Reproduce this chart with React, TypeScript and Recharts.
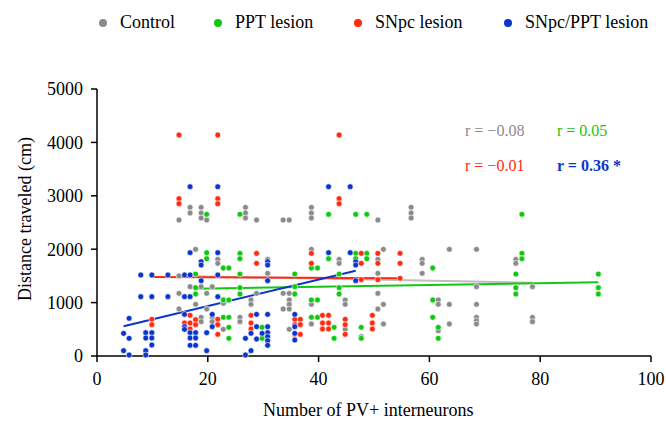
import React from "react";
import {
  ReferenceLine,
  Scatter,
  ScatterChart,
  XAxis,
  YAxis,
} from "recharts";

// [number of PV+ interneurons, distance traveled (cm)]
const controlPts: [number, number][] = [
  [14.8, 2547], [16.8, 2785], [16.8, 2678], [18.8, 2785], [18.8, 2678], [18.8, 2584], [19.8, 2547],
  [17.8, 1998], [16.8, 1298], [18.8, 1298], [14.8, 1173], [19.8, 1173], [17.8, 968], [14.8, 880],
  [19.8, 880], [18.8, 725], [18.8, 643], [14.8, 1500],
  [21.8, 1810], [21.8, 1735], [30.8, 1810], [30.8, 1548], [20.8, 1298], [22.8, 1049], [22.8, 987],
  [28.8, 1173], [27.8, 1049], [27.8, 968], [33.6, 1173], [34.7, 1173], [34.7, 1049], [34.7, 968],
  [33.6, 880], [34.7, 880], [20.8, 725], [20.8, 643], [22.8, 499], [25.8, 725], [25.8, 643],
  [34.7, 499], [38.7, 600],
  [26.8, 2785], [26.8, 2678], [26.8, 2584], [28.8, 2547], [33.6, 2547], [34.7, 2547], [38.7, 2785],
  [38.7, 2678], [38.7, 2584], [38.7, 1998],
  [43.7, 1810], [43.7, 1735], [50.7, 2547], [56.7, 2785], [56.7, 2678], [56.7, 2584], [50.7, 1810],
  [51.7, 1998], [58.7, 1810], [58.7, 1735], [58.7, 1548], [50.7, 1548], [50.7, 1173], [38.7, 968],
  [44.8, 1049], [44.8, 968], [51.7, 968], [50.7, 880], [51.7, 600], [44.8, 499], [47.7, 362],
  [63.6, 1998], [68.5, 1998], [75.6, 1810], [75.6, 1735], [78.6, 1298], [68.5, 1298], [61.6, 1049],
  [61.6, 968], [63.6, 968], [68.5, 968], [68.5, 725], [68.5, 662], [68.5, 600], [78.6, 725],
  [78.6, 643], [63.6, 600], [61.6, 475],
];

const pptPts: [number, number][] = [
  [19.8, 2654], [19.8, 1935], [19.8, 1822], [17.8, 1535], [17.8, 1279], [17.8, 1161],
  [22.8, 1648], [23.8, 1648], [25.8, 1922], [25.8, 1822], [25.8, 1535], [25.8, 1279], [25.8, 1161],
  [22.8, 1049], [23.8, 1049], [35.7, 1535], [38.7, 1648], [39.8, 1648], [35.7, 1298], [35.7, 1161],
  [38.7, 1049], [39.8, 1049], [22.8, 725], [23.8, 725], [23.8, 537], [23.8, 331], [29.8, 537],
  [29.8, 331], [38.7, 725], [39.8, 725], [25.8, 2654],
  [41.8, 2654], [46.7, 2654], [48.7, 2654], [41.8, 1822], [46.7, 1922], [46.7, 1822], [48.7, 1922],
  [48.7, 1822], [43.7, 1535], [43.7, 1279], [43.7, 1161], [42.8, 537], [42.8, 331], [47.7, 537],
  [47.7, 331],
  [76.7, 2654], [76.7, 1922], [76.7, 1822], [60.6, 1648], [75.6, 1535], [75.6, 1279], [75.6, 1161],
  [60.6, 1049], [60.6, 725], [61.6, 537], [61.6, 331],
  [90.5, 1535], [90.5, 1279], [90.5, 1161],
];

const snpcPts: [number, number][] = [
  [14.8, 4139], [14.8, 2946], [14.8, 2852], [9.9, 687], [9.9, 587], [16.8, 762], [15.8, 618],
  [16.8, 618], [17.8, 680], [17.8, 587], [16.8, 506],
  [21.8, 4139], [21.8, 2946], [21.8, 2852], [28.8, 1922], [28.8, 1735], [38.7, 1922], [38.7, 1735],
  [21.8, 687], [21.8, 587], [21.8, 406], [27.8, 762], [27.8, 618], [27.8, 506], [35.7, 687],
  [36.7, 687], [35.7, 587], [36.7, 587], [35.7, 406], [36.7, 406],
  [43.7, 4139], [43.7, 2946], [43.7, 2852], [47.7, 1922], [47.7, 1735], [50.7, 1922], [50.7, 1735],
  [54.7, 1922], [54.7, 1735], [47.7, 1430], [50.7, 1430], [54.7, 1455], [40.7, 762], [41.8, 762],
  [40.7, 618], [41.8, 618], [40.7, 506], [41.8, 506], [44.8, 687], [44.8, 587], [44.8, 406],
  [49.7, 762], [49.7, 618], [49.7, 506],
];

const comboPts: [number, number][] = [
  [16.8, 3170], [21.8, 3170], [16.8, 1935], [18.8, 1766], [18.8, 1704], [18.8, 1410], [7.9, 1517],
  [9.9, 1517], [12.8, 1517], [15.8, 1517], [16.8, 1517], [7.9, 1111], [9.9, 1111], [12.8, 1111],
  [15.8, 1111], [16.8, 1111], [15.8, 780], [5.8, 706], [15.8, 549], [15.8, 499], [4.8, 424],
  [8.8, 437], [9.9, 437], [8.8, 337], [9.9, 337], [9.9, 206], [5.8, 331], [16.8, 437], [17.8, 437],
  [16.8, 337], [17.8, 337], [16.8, 200], [17.8, 200], [19.8, 437], [4.8, 100], [5.8, 19],
  [8.8, 100], [8.8, 19], [19.8, 100],
  [21.8, 1935], [30.8, 1766], [30.8, 1704], [21.8, 1517], [30.8, 1410], [21.8, 1111], [20.8, 780],
  [20.8, 549], [28.8, 780], [28.8, 549], [27.8, 424], [26.8, 331], [27.8, 100], [26.8, 19],
  [30.8, 780], [30.8, 549], [30.8, 437], [30.8, 362], [30.8, 287], [30.8, 200], [29.8, 424],
  [28.8, 318], [35.7, 780], [35.7, 549], [35.7, 424], [35.7, 300],
  [41.8, 3170], [45.7, 3170], [41.8, 1935], [45.7, 1935], [46.7, 1766], [46.7, 1704], [46.7, 1410],
];

// regression line end points
const controlFit: [number, number][] = [[14.8, 1500], [78.6, 1372]];
const pptFit: [number, number][] = [[17.8, 1261], [90.5, 1380]];
const snpcFit: [number, number][] = [[9.9, 1480], [54.7, 1455]];
const comboFit: [number, number][] = [[4.8, 556], [46.7, 1598]];

const xTicks = [0, 20, 40, 60, 80, 100];
const yTicks = [0, 1000, 2000, 3000, 4000, 5000];

const series = [
  { name: "Control", pts: controlPts, fit: controlFit, color: "#8a8a8a", line: "#bdbdbd", legendX: 99, r: "r = −0.08" },
  { name: "PPT lesion", pts: pptPts, fit: pptFit, color: "#11c811", line: "#11c811", legendX: 214, r: "r = 0.05" },
  { name: "SNpc lesion", pts: snpcPts, fit: snpcFit, color: "#ff2a10", line: "#ff2a10", legendX: 354, r: "r = −0.01" },
  { name: "SNpc/PPT lesion", pts: comboPts, fit: comboFit, color: "#0a35c8", line: "#0a35c8", legendX: 504, r: "r = 0.36 *" },
];

const font = '"Liberation Serif", "Times New Roman", serif';

const Dot = (props: any) => {
  const { cx, cy, fill } = props;
  if (cx == null || cy == null) return null;
  return <circle cx={cx} cy={cy} r={2.9} fill={fill} stroke="#fff" strokeWidth={0.6} />;
};

const XTick = ({ x, y, payload }: any) => (
  <text x={x} y={y} dy="0.71em" textAnchor="middle" fill="#000" style={{ fontSize: 18, fontFamily: font }}>
    {payload.value}
  </text>
);

const YTick = ({ x, y, payload }: any) => (
  <text x={x} y={y} dy="0.35em" textAnchor="end" fill="#000" style={{ fontSize: 18, fontFamily: font }}>
    {payload.value}
  </text>
);

export default function App() {
  return (
    <div style={{ position: "absolute", left: 0, top: 0, width: 666, height: 421, background: "#fff", fontFamily: font }}>
      <ScatterChart width={666} height={421} margin={{ top: 89, right: 15, bottom: 0, left: 0 }}>
        <XAxis
          type="number"
          dataKey="x"
          domain={[0, 100]}
          ticks={xTicks}
          stroke="#000"
          strokeWidth={1.5}
          tickSize={6}
          tickMargin={10}
          height={65}
          tick={<XTick />}
        />
        <YAxis
          type="number"
          dataKey="y"
          domain={[0, 5000]}
          ticks={yTicks}
          stroke="#000"
          strokeWidth={1.5}
          tickSize={6}
          tickMargin={8}
          width={97}
          tick={<YTick />}
        />
        {series.map((s) => (
          <ReferenceLine
            key={s.name + "-fit"}
            segment={s.fit.map(([x, y]) => ({ x, y }))}
            stroke={s.line}
            strokeWidth={2}
          />
        ))}
        {series.map((s) => (
          <Scatter
            key={s.name}
            name={s.name}
            data={s.pts.map(([x, y]) => ({ x, y }))}
            fill={s.color}
            shape={Dot}
            isAnimationActive={false}
          />
        ))}
      </ScatterChart>

      {/* legend */}
      {series.map((s) => (
        <div
          key={s.name}
          style={{ position: "absolute", top: 12, left: s.legendX, display: "flex", alignItems: "center", fontSize: 18, whiteSpace: "nowrap" }}
        >
          <span style={{ width: 8, height: 8, borderRadius: "50%", background: s.color, display: "inline-block", marginRight: 13 }} />
          <span>{s.name}</span>
        </div>
      ))}

      {/* correlation coefficients */}
      {series.map((s, i) => (
        <div
          key={s.name + "-r"}
          style={{
            position: "absolute",
            left: i % 2 === 0 ? 465 : 557,
            top: i < 2 ? 122 : 157,
            fontSize: 16,
            color: s.color,
            fontWeight: i === 3 ? "bold" : "normal",
            whiteSpace: "nowrap",
          }}
        >
          {s.r}
        </div>
      ))}

      {/* axis titles */}
      <div style={{ position: "absolute", left: 263, top: 400, fontSize: 18, whiteSpace: "nowrap" }}>Number of PV+ interneurons</div>
      <div
        style={{
          position: "absolute",
          left: 25,
          top: 219,
          fontSize: 18,
          whiteSpace: "nowrap",
          transform: "translate(-50%, -50%) rotate(-90deg)",
        }}
      >
        Distance traveled (cm)
      </div>
    </div>
  );
}
